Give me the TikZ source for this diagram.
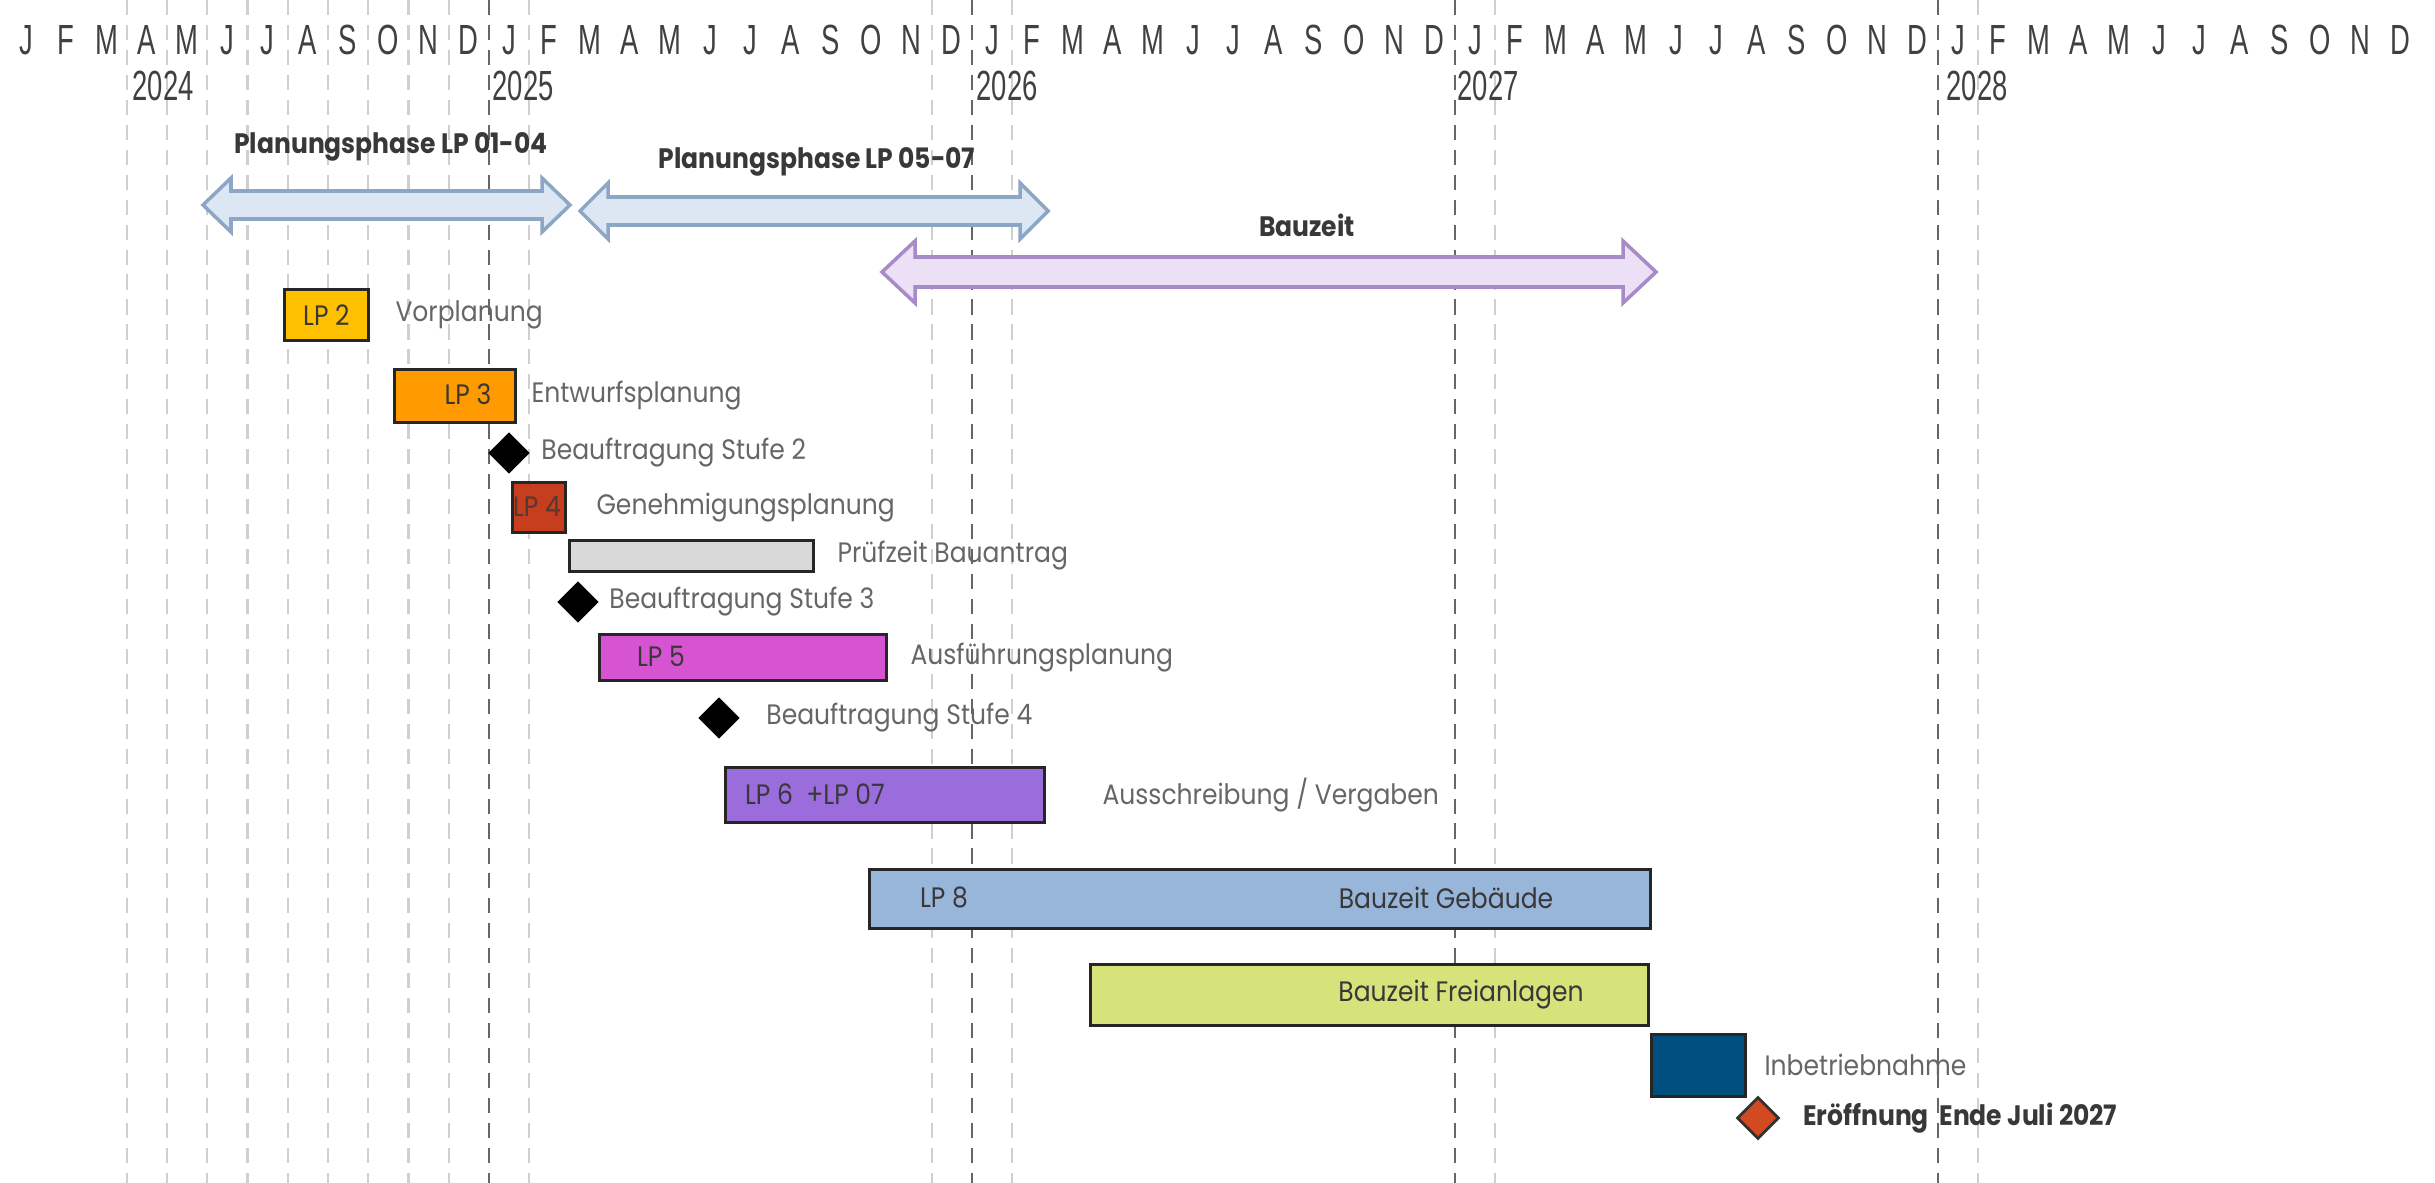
\documentclass[tikz,border=0pt]{standalone}
\usepackage{fontspec}
\setmainfont{Poppins}[FakeStretch=0.89]
\newfontfamily\monthfont[FakeStretch=0.65]{Liberation Sans}
\usetikzlibrary{positioning,shapes.geometric}
\definecolor{gLight}{HTML}{CFCFCF}
\definecolor{gDark}{HTML}{666666}
\definecolor{gText}{HTML}{404040}
\definecolor{gLbl}{HTML}{666666}
\definecolor{gIn}{HTML}{383838}
\definecolor{arrBlueF}{HTML}{DDE7F3}
\definecolor{arrBlueD}{HTML}{8CA6C6}
\definecolor{arrLilaF}{HTML}{EBE0F5}
\definecolor{arrLilaD}{HTML}{A68BC8}
\definecolor{cLPzwei}{HTML}{FFC000}
\definecolor{cLPdrei}{HTML}{FF9A00}
\definecolor{cLPvier}{HTML}{C63E1D}
\definecolor{cPruef}{HTML}{D9D9D9}
\definecolor{cLPfuenf}{HTML}{D654D2}
\definecolor{cLPsechs}{HTML}{9A6CDC}
\definecolor{cLPacht}{HTML}{98B5DA}
\definecolor{cFrei}{HTML}{D6E27A}
\definecolor{cInbetr}{HTML}{00507F}
\definecolor{cOpen}{HTML}{D24A1F}
\tikzset{
    month line/.style={gLight, line width=0.6pt, dash pattern=on 4.3pt off 2.8pt},
    year line/.style={gDark, line width=0.6pt, dash pattern=on 4.3pt off 2.8pt},
    month/.style={font=\monthfont\fontsize{12}{14}\selectfont, text=gText, inner sep=0pt},
    phase arrow/.style={line width=1pt, line join=miter},
    phase/.style={font=\bfseries\fontsize{8}{10}\selectfont, text=gIn, inner sep=0pt},
    bar/.style={draw=black!85, line width=0.8pt, inner sep=0pt, anchor=north west,
        font=\fontsize{8}{10}\selectfont, text=gIn},
    ms/.style={diamond, fill=black, inner sep=0pt, minimum size=4.2mm},
    lbl/.style={font=\fontsize{8}{10}\selectfont, text=gLbl, inner sep=0pt, anchor=west},
    inlbl/.style={font=\fontsize{8}{10}\selectfont, text=gIn, inner sep=0pt}
}

\begin{document}
\begin{tikzpicture}[x=0.1mm,y=-0.1mm]
\useasboundingbox (0,0) rectangle (2435,1183);
% month grid
\foreach \m in {3,...,11,13,...,23,25,...,35,37,...,47,49,...,59}
    \draw[month line] ({6+40.25*\m},0) -- ({6+40.25*\m},1183);
\foreach \m in {12,24,36,48}
    \draw[year line] ({6+40.25*\m},0) -- ({6+40.25*\m},1183);
\foreach \yr in {0,...,4}
    \foreach \l [count=\i from 0] in {J,F,M,A,M,J,J,A,S,O,N,D}
        \node[month] (mon-\yr-\i) at ({26+483*\yr+40.25*\i},40) {\l};
\node[month,anchor=west] (y2024) at (132,86) {2024};
\node[month,anchor=west] (y2025) at (492,86) {2025};
\node[month,anchor=west] (y2026) at (976,86) {2026};
\node[month,anchor=west] (y2027) at (1457,86) {2027};
\node[month,anchor=west] (y2028) at (1946,86) {2028};

% phases
\draw[phase arrow,draw=arrBlueD,fill=arrBlueF] (203,205) -- (231,178) -- (231,191) -- (542,191) -- (542,178) -- (570,205)
    -- (542,232) -- (542,219) -- (231,219) -- (231,232) -- cycle;
\draw[phase arrow,draw=arrBlueD,fill=arrBlueF] (580,211) -- (608,183) -- (608,197) -- (1020,197) -- (1020,183) -- (1048,211)
    -- (1020,239) -- (1020,225) -- (608,225) -- (608,239) -- cycle;
\draw[phase arrow,draw=arrLilaD,fill=arrLilaF] (882,272) -- (915,241) -- (915,257) -- (1623,257) -- (1623,241) -- (1656,272)
    -- (1623,303) -- (1623,287) -- (915,287) -- (915,303) -- cycle;
\node[phase] (ph1) at (391,147) {Planungsphase LP 01-04};
\node[phase] (ph2) at (817,162) {Planungsphase LP 05-07};
\node[phase] (bau) at (1307,225) {Bauzeit};

% tasks
\node[bar,fill=cLPzwei,minimum width=8.4mm,minimum height=5.1mm] (lp2) at (283,288) {LP 2};
\node[lbl,right=2.5mm of lp2] (lp2t) {Vorplanung};

\node[bar,fill=cLPdrei,minimum width=12.1mm,minimum height=5.3mm] (lp3) at (393,368) {};
\node[inlbl] (lp3i) at (468,394) {LP 3};
\node[lbl,right=1.4mm of lp3] (lp3t) {Entwurfsplanung};

\node[ms] (st2) at (509,453) {};
\node[lbl,right=1mm of st2] (st2t) {Beauftragung Stufe 2};

\node[bar,fill=cLPvier,minimum width=5.3mm,minimum height=5mm] (lp4) at (511,481) {};
\node[inlbl,text=gIn!80!cLPvier] (lp4i) at (537,506) {LP 4};
\node[lbl,right=2.9mm of lp4] (lp4t) {Genehmigungsplanung};

\node[bar,fill=cPruef,minimum width=24.4mm,minimum height=3.1mm] (pz) at (568,539) {};
\node[lbl,right=2.2mm of pz] (pzt) {Prüfzeit Bauantrag};

\node[ms] (st3) at (578,602) {};
\node[lbl,right=0.9mm of st3] (st3t) {Beauftragung Stufe 3};

\node[bar,fill=cLPfuenf,minimum width=28.7mm,minimum height=4.6mm] (lp5) at (598,633) {};
\node[inlbl] (lp5i) at (661,656) {LP 5};
\node[lbl,right=2.2mm of lp5] (lp5t) {Ausführungsplanung};

\node[ms] (st4) at (719,718) {};
\node[lbl,right=2.5mm of st4] (st4t) {Beauftragung Stufe 4};

\node[bar,fill=cLPsechs,minimum width=31.9mm,minimum height=5.5mm] (lp6) at (724,766) {};
\node[inlbl] (lp6i) at (815,794) {LP 6~ +LP 07};
\node[lbl,right=5.6mm of lp6] (lp6t) {Ausschreibung / Vergaben};

\node[bar,fill=cLPacht,minimum width=78.1mm,minimum height=5.9mm] (lp8) at (868,868) {};
\node[inlbl] (lp8i) at (944,897) {LP 8};
\node[inlbl] (lp8t) at (1446,898) {Bauzeit Gebäude};

\node[bar,fill=cFrei,minimum width=55.8mm,minimum height=6.1mm] (frei) at (1089,963) {};
\node[inlbl] (freit) at (1461,995) {Bauzeit Freianlagen};

\node[bar,fill=cInbetr,minimum width=9.4mm,minimum height=6.2mm] (inb) at (1650,1033) {};
\node[lbl,right=1.7mm of inb] (inbt) {Inbetriebnahme};

\node[ms,fill=cOpen,draw=black!80,line width=0.8pt] (open) at (1758,1118) {};
\node[lbl,right=2.2mm of open,text=gIn,font=\bfseries\fontsize{8}{10}\selectfont] (opent) {Eröffnung~~Ende Juli 2027};
\end{tikzpicture}
\end{document}
